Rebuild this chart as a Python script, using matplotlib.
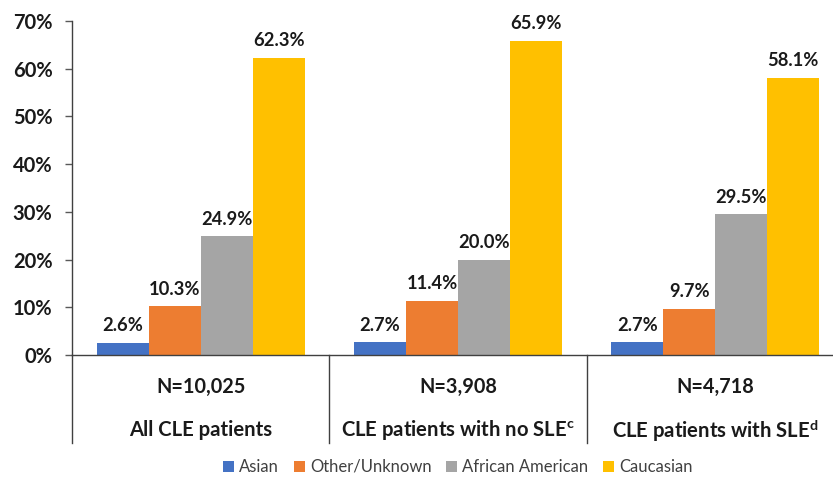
import matplotlib
matplotlib.use("Agg")
import matplotlib.pyplot as plt
import matplotlib.transforms as mtransforms
import numpy as np

plt.rcParams['font.family'] = ['Lato', 'DejaVu Sans']

# data
groups_n = ['N=10,025', 'N=3,908', 'N=4,718']
groups = ['All CLE patients',
          'CLE patients with no SLE$^{\\mathregular{c}}$',
          'CLE patients with SLE$^{\\mathregular{d}}$']
races = ['Asian', 'Other/Unknown', 'African American', 'Caucasian']
asian = [2.6, 2.7, 2.7]
other_unknown = [10.3, 11.4, 9.7]
african_american = [24.9, 20.0, 29.5]
caucasian = [62.3, 65.9, 58.1]
colors = ['#4472C4', '#ED7D31', '#A5A5A5', '#FFC000']

series = [asian, other_unknown, african_american, caucasian]

fig = plt.figure(figsize=(8.33, 4.79), dpi=100)
ax = fig.add_axes([72 / 833, 124 / 479, 772 / 833, 334 / 479])

x = np.arange(len(groups))
width = 0.202
for k, (vals, col, name) in enumerate(zip(series, colors, races)):
    pos = x + (k - 1.5) * width
    vals = np.array(vals) / 100
    bars = ax.bar(pos, vals, width, color=col, label=name)
    for b, v in zip(bars, vals):
        ax.annotate(f'{v * 100:.1f}%', (b.get_x() + b.get_width() / 2, v),
                    xytext=(0, 6), textcoords='offset points',
                    ha='center', va='bottom', fontsize=13.2,
                    fontweight='bold', color='#1a1a1a')

ax.set_xlim(-0.5, 2.5)
ax.set_ylim(0, 0.7)
ax.set_yticks(np.arange(0, 0.71, 0.1))
ax.set_yticklabels([f'{int(round(t * 100))}%' for t in np.arange(0, 0.71, 0.1)],
                   fontsize=14.5, fontweight='bold', color='#1a1a1a')
ax.tick_params(axis='y', length=5, width=1, color='#595959', pad=9)
ax.set_xticks([])
for s in ['top', 'right']:
    ax.spines[s].set_visible(False)
for s in ['left', 'bottom']:
    ax.spines[s].set_color('#404040')
    ax.spines[s].set_linewidth(1)

# multi-level category axis below the bars
trans = mtransforms.blended_transform_factory(ax.transData, ax.transAxes)
for sep in np.arange(-0.5, len(groups) + 0.5, 1):
    ax.plot([sep, sep], [0, -0.263], transform=trans, color='#404040',
            lw=1, clip_on=False)
for i in range(len(groups)):
    ax.text(x[i], -0.095, groups_n[i], transform=trans, ha='center',
            va='center', fontsize=14.3, fontweight='bold', color='#1a1a1a')
    ax.text(x[i], -0.225, groups[i], transform=trans, ha='center',
            va='center', fontsize=14.6, fontweight='bold', color='#1a1a1a')

fig.legend(loc='center', bbox_to_anchor=(458 / 833, 12 / 479), ncol=4,
           frameon=False, fontsize=12, handlelength=0.65, handleheight=0.65,
           handletextpad=0.3, columnspacing=0.9, labelcolor='#404040')

fig.savefig('out.png', dpi=100)
